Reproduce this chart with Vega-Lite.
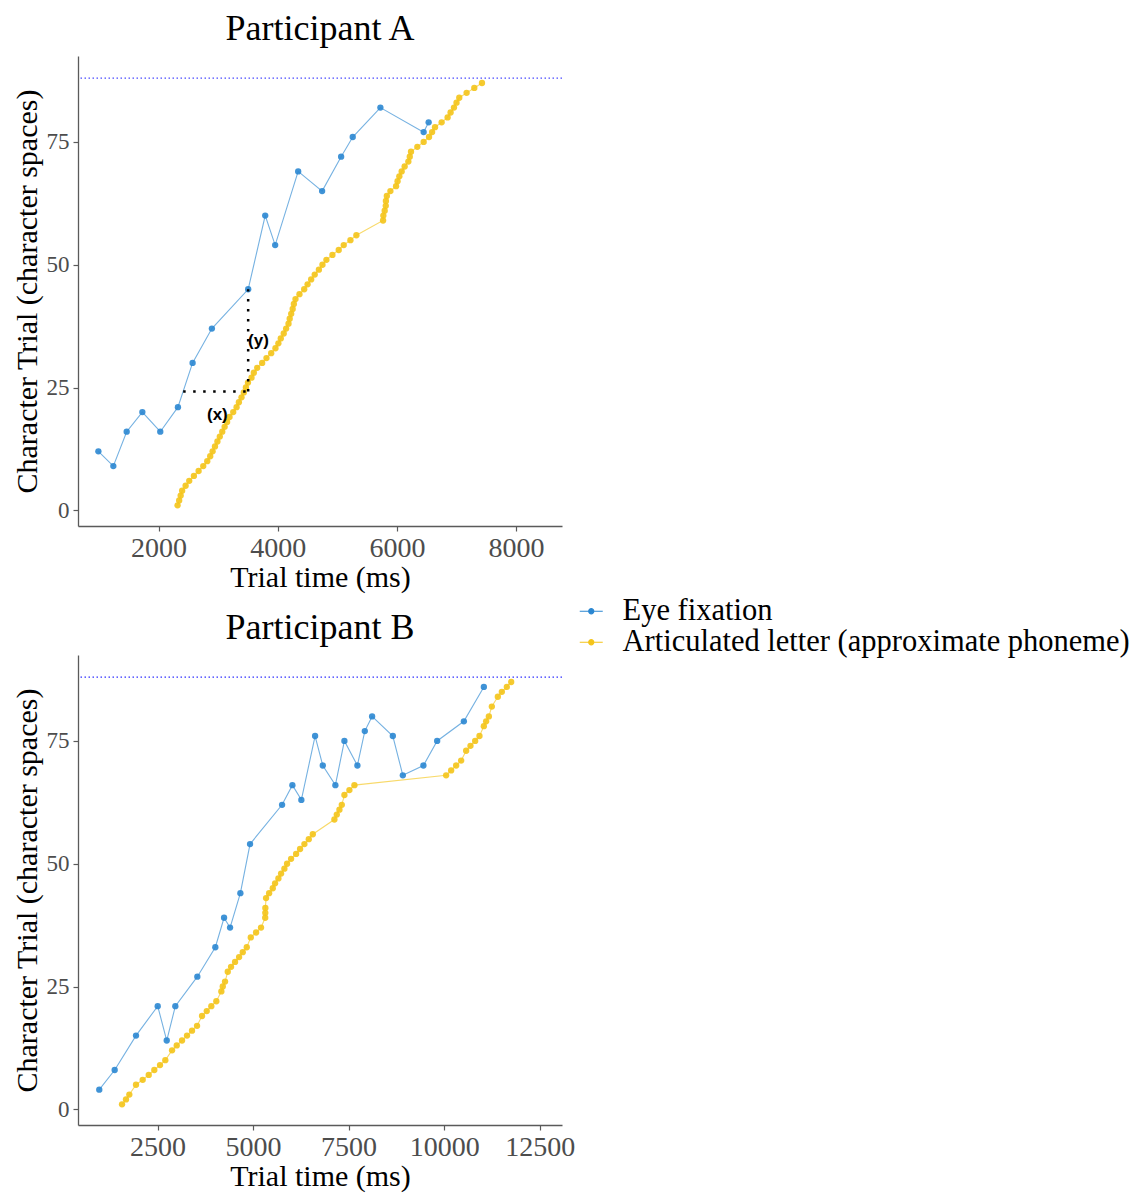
{
"$schema": "https://vega.github.io/schema/vega-lite/v6.json",
"background": "white",
"padding": {"left": 12, "top": 11, "right": 5, "bottom": 5},
"spacing": 18,
"data": {"values": [
{"p":"A","s":"Eye fixation","t":989,"c":12},{"p":"A","s":"Eye fixation","t":1240,"c":9},{"p":"A","s":"Eye fixation","t":1464,"c":16},{"p":"A","s":"Eye fixation","t":1727,"c":20},{"p":"A","s":"Eye fixation","t":2028,"c":16},{"p":"A","s":"Eye fixation","t":2324,"c":21},{"p":"A","s":"Eye fixation","t":2570,"c":30},{"p":"A","s":"Eye fixation","t":2894,"c":37},{"p":"A","s":"Eye fixation","t":3503,"c":45},{"p":"A","s":"Eye fixation","t":3789,"c":60},{"p":"A","s":"Eye fixation","t":3956,"c":54},{"p":"A","s":"Eye fixation","t":4342,"c":69},{"p":"A","s":"Eye fixation","t":4744,"c":65},{"p":"A","s":"Eye fixation","t":5063,"c":72},{"p":"A","s":"Eye fixation","t":5258,"c":76},{"p":"A","s":"Eye fixation","t":5722,"c":82},{"p":"A","s":"Eye fixation","t":6448,"c":77},{"p":"A","s":"Eye fixation","t":6532,"c":79},
{"p":"A","s":"Articulated letter (approximate phoneme)","t":2318,"c":1},{"p":"A","s":"Articulated letter (approximate phoneme)","t":2345,"c":2},{"p":"A","s":"Articulated letter (approximate phoneme)","t":2370,"c":3},{"p":"A","s":"Articulated letter (approximate phoneme)","t":2395,"c":4},{"p":"A","s":"Articulated letter (approximate phoneme)","t":2453,"c":5},{"p":"A","s":"Articulated letter (approximate phoneme)","t":2514,"c":6},{"p":"A","s":"Articulated letter (approximate phoneme)","t":2592,"c":7},{"p":"A","s":"Articulated letter (approximate phoneme)","t":2671,"c":8},{"p":"A","s":"Articulated letter (approximate phoneme)","t":2749,"c":9},{"p":"A","s":"Articulated letter (approximate phoneme)","t":2816,"c":10},{"p":"A","s":"Articulated letter (approximate phoneme)","t":2866,"c":11},{"p":"A","s":"Articulated letter (approximate phoneme)","t":2906,"c":12},{"p":"A","s":"Articulated letter (approximate phoneme)","t":2946,"c":13},{"p":"A","s":"Articulated letter (approximate phoneme)","t":2987,"c":14},{"p":"A","s":"Articulated letter (approximate phoneme)","t":3027,"c":15},{"p":"A","s":"Articulated letter (approximate phoneme)","t":3068,"c":16},{"p":"A","s":"Articulated letter (approximate phoneme)","t":3108,"c":17},{"p":"A","s":"Articulated letter (approximate phoneme)","t":3149,"c":18},{"p":"A","s":"Articulated letter (approximate phoneme)","t":3190,"c":19},{"p":"A","s":"Articulated letter (approximate phoneme)","t":3252,"c":20},{"p":"A","s":"Articulated letter (approximate phoneme)","t":3308,"c":21},{"p":"A","s":"Articulated letter (approximate phoneme)","t":3347,"c":22},{"p":"A","s":"Articulated letter (approximate phoneme)","t":3391,"c":23},{"p":"A","s":"Articulated letter (approximate phoneme)","t":3430,"c":24},{"p":"A","s":"Articulated letter (approximate phoneme)","t":3465,"c":25},{"p":"A","s":"Articulated letter (approximate phoneme)","t":3500,"c":26},{"p":"A","s":"Articulated letter (approximate phoneme)","t":3559,"c":27},{"p":"A","s":"Articulated letter (approximate phoneme)","t":3598,"c":28},{"p":"A","s":"Articulated letter (approximate phoneme)","t":3654,"c":29},{"p":"A","s":"Articulated letter (approximate phoneme)","t":3738,"c":30},{"p":"A","s":"Articulated letter (approximate phoneme)","t":3810,"c":31},{"p":"A","s":"Articulated letter (approximate phoneme)","t":3889,"c":32},{"p":"A","s":"Articulated letter (approximate phoneme)","t":3961,"c":33},{"p":"A","s":"Articulated letter (approximate phoneme)","t":4010,"c":34},{"p":"A","s":"Articulated letter (approximate phoneme)","t":4050,"c":35},{"p":"A","s":"Articulated letter (approximate phoneme)","t":4100,"c":36},{"p":"A","s":"Articulated letter (approximate phoneme)","t":4140,"c":37},{"p":"A","s":"Articulated letter (approximate phoneme)","t":4180,"c":38},{"p":"A","s":"Articulated letter (approximate phoneme)","t":4200,"c":39},{"p":"A","s":"Articulated letter (approximate phoneme)","t":4225,"c":40},{"p":"A","s":"Articulated letter (approximate phoneme)","t":4250,"c":41},{"p":"A","s":"Articulated letter (approximate phoneme)","t":4270,"c":42},{"p":"A","s":"Articulated letter (approximate phoneme)","t":4297,"c":43},{"p":"A","s":"Articulated letter (approximate phoneme)","t":4364,"c":44},{"p":"A","s":"Articulated letter (approximate phoneme)","t":4443,"c":45},{"p":"A","s":"Articulated letter (approximate phoneme)","t":4500,"c":46},{"p":"A","s":"Articulated letter (approximate phoneme)","t":4560,"c":47},{"p":"A","s":"Articulated letter (approximate phoneme)","t":4620,"c":48},{"p":"A","s":"Articulated letter (approximate phoneme)","t":4690,"c":49},{"p":"A","s":"Articulated letter (approximate phoneme)","t":4750,"c":50},{"p":"A","s":"Articulated letter (approximate phoneme)","t":4816,"c":51},{"p":"A","s":"Articulated letter (approximate phoneme)","t":4917,"c":52},{"p":"A","s":"Articulated letter (approximate phoneme)","t":5023,"c":53},{"p":"A","s":"Articulated letter (approximate phoneme)","t":5107,"c":54},{"p":"A","s":"Articulated letter (approximate phoneme)","t":5219,"c":55},{"p":"A","s":"Articulated letter (approximate phoneme)","t":5319,"c":56},{"p":"A","s":"Articulated letter (approximate phoneme)","t":5767,"c":59},{"p":"A","s":"Articulated letter (approximate phoneme)","t":5772,"c":60},{"p":"A","s":"Articulated letter (approximate phoneme)","t":5794,"c":61},{"p":"A","s":"Articulated letter (approximate phoneme)","t":5812,"c":62},{"p":"A","s":"Articulated letter (approximate phoneme)","t":5815,"c":63},{"p":"A","s":"Articulated letter (approximate phoneme)","t":5830,"c":64},{"p":"A","s":"Articulated letter (approximate phoneme)","t":5890,"c":65},{"p":"A","s":"Articulated letter (approximate phoneme)","t":5985,"c":66},{"p":"A","s":"Articulated letter (approximate phoneme)","t":6010,"c":67},{"p":"A","s":"Articulated letter (approximate phoneme)","t":6040,"c":68},{"p":"A","s":"Articulated letter (approximate phoneme)","t":6079,"c":69},{"p":"A","s":"Articulated letter (approximate phoneme)","t":6129,"c":70},{"p":"A","s":"Articulated letter (approximate phoneme)","t":6191,"c":71},{"p":"A","s":"Articulated letter (approximate phoneme)","t":6215,"c":72},{"p":"A","s":"Articulated letter (approximate phoneme)","t":6236,"c":73},{"p":"A","s":"Articulated letter (approximate phoneme)","t":6342,"c":74},{"p":"A","s":"Articulated letter (approximate phoneme)","t":6448,"c":75},{"p":"A","s":"Articulated letter (approximate phoneme)","t":6538,"c":76},{"p":"A","s":"Articulated letter (approximate phoneme)","t":6590,"c":77},{"p":"A","s":"Articulated letter (approximate phoneme)","t":6639,"c":78},{"p":"A","s":"Articulated letter (approximate phoneme)","t":6750,"c":79},{"p":"A","s":"Articulated letter (approximate phoneme)","t":6850,"c":80},{"p":"A","s":"Articulated letter (approximate phoneme)","t":6900,"c":81},{"p":"A","s":"Articulated letter (approximate phoneme)","t":6957,"c":82},{"p":"A","s":"Articulated letter (approximate phoneme)","t":7000,"c":83},{"p":"A","s":"Articulated letter (approximate phoneme)","t":7046,"c":84},{"p":"A","s":"Articulated letter (approximate phoneme)","t":7169,"c":85},{"p":"A","s":"Articulated letter (approximate phoneme)","t":7298,"c":86},{"p":"A","s":"Articulated letter (approximate phoneme)","t":7427,"c":87},
{"p":"B","s":"Eye fixation","t":976,"c":4},{"p":"B","s":"Eye fixation","t":1379,"c":8},{"p":"B","s":"Eye fixation","t":1937,"c":15},{"p":"B","s":"Eye fixation","t":2505,"c":21},{"p":"B","s":"Eye fixation","t":2741,"c":14},{"p":"B","s":"Eye fixation","t":2966,"c":21},{"p":"B","s":"Eye fixation","t":3542,"c":27},{"p":"B","s":"Eye fixation","t":4013,"c":33},{"p":"B","s":"Eye fixation","t":4241,"c":39},{"p":"B","s":"Eye fixation","t":4398,"c":37},{"p":"B","s":"Eye fixation","t":4668,"c":44},{"p":"B","s":"Eye fixation","t":4921,"c":54},{"p":"B","s":"Eye fixation","t":5759,"c":62},{"p":"B","s":"Eye fixation","t":6029,"c":66},{"p":"B","s":"Eye fixation","t":6264,"c":63},{"p":"B","s":"Eye fixation","t":6623,"c":76},{"p":"B","s":"Eye fixation","t":6824,"c":70},{"p":"B","s":"Eye fixation","t":7154,"c":66},{"p":"B","s":"Eye fixation","t":7390,"c":75},{"p":"B","s":"Eye fixation","t":7730,"c":70},{"p":"B","s":"Eye fixation","t":7924,"c":77},{"p":"B","s":"Eye fixation","t":8115,"c":80},{"p":"B","s":"Eye fixation","t":8657,"c":76},{"p":"B","s":"Eye fixation","t":8919,"c":68},{"p":"B","s":"Eye fixation","t":9458,"c":70},{"p":"B","s":"Eye fixation","t":9817,"c":75},{"p":"B","s":"Eye fixation","t":10516,"c":79},{"p":"B","s":"Eye fixation","t":11039,"c":86},
{"p":"B","s":"Articulated letter (approximate phoneme)","t":1571,"c":1},{"p":"B","s":"Articulated letter (approximate phoneme)","t":1675,"c":2},{"p":"B","s":"Articulated letter (approximate phoneme)","t":1762,"c":3},{"p":"B","s":"Articulated letter (approximate phoneme)","t":1937,"c":5},{"p":"B","s":"Articulated letter (approximate phoneme)","t":2112,"c":6},{"p":"B","s":"Articulated letter (approximate phoneme)","t":2270,"c":7},{"p":"B","s":"Articulated letter (approximate phoneme)","t":2416,"c":8},{"p":"B","s":"Articulated letter (approximate phoneme)","t":2565,"c":9},{"p":"B","s":"Articulated letter (approximate phoneme)","t":2704,"c":10},{"p":"B","s":"Articulated letter (approximate phoneme)","t":2880,"c":12},{"p":"B","s":"Articulated letter (approximate phoneme)","t":3003,"c":13},{"p":"B","s":"Articulated letter (approximate phoneme)","t":3141,"c":14},{"p":"B","s":"Articulated letter (approximate phoneme)","t":3272,"c":15},{"p":"B","s":"Articulated letter (approximate phoneme)","t":3403,"c":16},{"p":"B","s":"Articulated letter (approximate phoneme)","t":3534,"c":17},{"p":"B","s":"Articulated letter (approximate phoneme)","t":3665,"c":19},{"p":"B","s":"Articulated letter (approximate phoneme)","t":3788,"c":20},{"p":"B","s":"Articulated letter (approximate phoneme)","t":3908,"c":21},{"p":"B","s":"Articulated letter (approximate phoneme)","t":4039,"c":22},{"p":"B","s":"Articulated letter (approximate phoneme)","t":4170,"c":24},{"p":"B","s":"Articulated letter (approximate phoneme)","t":4207,"c":25},{"p":"B","s":"Articulated letter (approximate phoneme)","t":4267,"c":26},{"p":"B","s":"Articulated letter (approximate phoneme)","t":4338,"c":28},{"p":"B","s":"Articulated letter (approximate phoneme)","t":4424,"c":29},{"p":"B","s":"Articulated letter (approximate phoneme)","t":4529,"c":30},{"p":"B","s":"Articulated letter (approximate phoneme)","t":4634,"c":31},{"p":"B","s":"Articulated letter (approximate phoneme)","t":4730,"c":32},{"p":"B","s":"Articulated letter (approximate phoneme)","t":4835,"c":33},{"p":"B","s":"Articulated letter (approximate phoneme)","t":4940,"c":35},{"p":"B","s":"Articulated letter (approximate phoneme)","t":5079,"c":36},{"p":"B","s":"Articulated letter (approximate phoneme)","t":5209,"c":37},{"p":"B","s":"Articulated letter (approximate phoneme)","t":5318,"c":39},{"p":"B","s":"Articulated letter (approximate phoneme)","t":5320,"c":40},{"p":"B","s":"Articulated letter (approximate phoneme)","t":5322,"c":41},{"p":"B","s":"Articulated letter (approximate phoneme)","t":5340,"c":43},{"p":"B","s":"Articulated letter (approximate phoneme)","t":5420,"c":44},{"p":"B","s":"Articulated letter (approximate phoneme)","t":5516,"c":45},{"p":"B","s":"Articulated letter (approximate phoneme)","t":5576,"c":46},{"p":"B","s":"Articulated letter (approximate phoneme)","t":5663,"c":47},{"p":"B","s":"Articulated letter (approximate phoneme)","t":5733,"c":48},{"p":"B","s":"Articulated letter (approximate phoneme)","t":5820,"c":49},{"p":"B","s":"Articulated letter (approximate phoneme)","t":5890,"c":50},{"p":"B","s":"Articulated letter (approximate phoneme)","t":5995,"c":51},{"p":"B","s":"Articulated letter (approximate phoneme)","t":6126,"c":52},{"p":"B","s":"Articulated letter (approximate phoneme)","t":6230,"c":53},{"p":"B","s":"Articulated letter (approximate phoneme)","t":6343,"c":54},{"p":"B","s":"Articulated letter (approximate phoneme)","t":6458,"c":55},{"p":"B","s":"Articulated letter (approximate phoneme)","t":6563,"c":56},{"p":"B","s":"Articulated letter (approximate phoneme)","t":7128,"c":59},{"p":"B","s":"Articulated letter (approximate phoneme)","t":7191,"c":60},{"p":"B","s":"Articulated letter (approximate phoneme)","t":7260,"c":61},{"p":"B","s":"Articulated letter (approximate phoneme)","t":7322,"c":62},{"p":"B","s":"Articulated letter (approximate phoneme)","t":7391,"c":64},{"p":"B","s":"Articulated letter (approximate phoneme)","t":7521,"c":65},{"p":"B","s":"Articulated letter (approximate phoneme)","t":7652,"c":66},{"p":"B","s":"Articulated letter (approximate phoneme)","t":10052,"c":68},{"p":"B","s":"Articulated letter (approximate phoneme)","t":10183,"c":69},{"p":"B","s":"Articulated letter (approximate phoneme)","t":10314,"c":70},{"p":"B","s":"Articulated letter (approximate phoneme)","t":10445,"c":71},{"p":"B","s":"Articulated letter (approximate phoneme)","t":10576,"c":73},{"p":"B","s":"Articulated letter (approximate phoneme)","t":10689,"c":74},{"p":"B","s":"Articulated letter (approximate phoneme)","t":10812,"c":75},{"p":"B","s":"Articulated letter (approximate phoneme)","t":10924,"c":76},{"p":"B","s":"Articulated letter (approximate phoneme)","t":11039,"c":78},{"p":"B","s":"Articulated letter (approximate phoneme)","t":11099,"c":79},{"p":"B","s":"Articulated letter (approximate phoneme)","t":11170,"c":80},{"p":"B","s":"Articulated letter (approximate phoneme)","t":11248,"c":82},{"p":"B","s":"Articulated letter (approximate phoneme)","t":11405,"c":84},{"p":"B","s":"Articulated letter (approximate phoneme)","t":11510,"c":85},{"p":"B","s":"Articulated letter (approximate phoneme)","t":11641,"c":86},{"p":"B","s":"Articulated letter (approximate phoneme)","t":11754,"c":87}
]},
"config": {
  "font": "Liberation Serif",
  "view": {"stroke": null},
  "axis": {"grid": false, "domainColor": "#5a5a5a", "tickColor": "#5a5a5a", "domainWidth": 1.3, "tickWidth": 1.2, "tickSize": 5, "labelColor": "#4d4d4d", "titleColor": "#000000", "titleFontWeight": "normal", "labelFont": "Liberation Serif", "titleFont": "Liberation Serif"},
  "axisX": {"labelFontSize": 28, "titleFontSize": 30, "labelPadding": 3, "titlePadding": 0},
  "axisY": {"labelFontSize": 23, "titleFontSize": 30, "labelPadding": 4, "titlePadding": 4},
  "title": {"fontSize": 36, "font": "Liberation Serif", "fontWeight": "normal", "anchor": "middle", "offset": 8, "color": "#000000"},
  "legend": {"orient": "none", "legendX": 498, "legendY": 540, "labelFont": "Liberation Serif", "labelFontSize": 30.5, "labelColor": "#000000", "labelLimit": 0, "labelOffset": 16, "rowPadding": -2, "symbolType": "M-1,0L1,0M0.22,0A0.22,0.22,0,1,1,-0.22,0A0.22,0.22,0,1,1,0.22,0Z", "symbolSize": 529, "symbolStrokeWidth": 1.2, "symbolOpacity": 1}
},
"vconcat": [
{
  "title": "Participant A",
  "width": 484, "height": 470,
  "layer": [
    {"data": {"values": [{}]}, "mark": {"type": "rule", "color": "#4a4aff", "strokeDash": [1.5, 2.5], "strokeWidth": 1.2},
     "encoding": {"y": {"datum": 88, "type": "quantitative", "scale": {"domain": [-3.2, 92.5], "nice": false, "zero": false}}}},
    {"transform": [{"filter": "datum.p === 'A'"}], "mark": {"type": "line", "strokeWidth": 1.1, "opacity": 0.65},
     "encoding": {
       "x": {"field": "t", "type": "quantitative", "scale": {"domain": [647, 8770], "nice": false, "zero": false}, "axis": {"values": [2000, 4000, 6000, 8000], "format": "d", "title": "Trial time (ms)"}},
       "y": {"field": "c", "type": "quantitative", "scale": {"domain": [-3.2, 92.5], "nice": false, "zero": false}, "axis": {"values": [0, 25, 50, 75], "title": "Character Trial (character spaces)"}},
       "color": {"field": "s", "type": "nominal", "scale": {"domain": ["Eye fixation", "Articulated letter (approximate phoneme)"], "range": ["#2b87d1", "#f4c41a"]}, "legend": {"title": null, "encode": {"symbols": {"update": {"fill": {"scale": "color", "field": "value"}, "stroke": {"scale": "color", "field": "value"}}}}}}
     }},
    {"transform": [{"filter": "datum.p === 'A'"}], "mark": {"type": "point", "filled": true, "size": 40, "opacity": 0.9},
     "encoding": {
       "x": {"field": "t", "type": "quantitative"},
       "y": {"field": "c", "type": "quantitative"},
       "color": {"field": "s", "type": "nominal", "legend": {"title": null}}
     }},
    {"data": {"values": [{}]}, "mark": {"type": "rule", "color": "#000000", "strokeDash": [2.5, 7.5], "strokeWidth": 2.5},
     "encoding": {"x": {"datum": 2412, "type": "quantitative"}, "x2": {"datum": 3503}, "y": {"datum": 24.2, "type": "quantitative"}}},
    {"data": {"values": [{}]}, "mark": {"type": "rule", "color": "#000000", "strokeDash": [2.5, 7.5], "strokeWidth": 2.5},
     "encoding": {"x": {"datum": 3503, "type": "quantitative"}, "y": {"datum": 24.2, "type": "quantitative"}, "y2": {"datum": 45}}},
    {"data": {"values": [{"lab": "(x)", "tx": 2986, "ty": 19.4}, {"lab": "(y)", "tx": 3676, "ty": 34.5}]}, "mark": {"type": "text", "font": "Liberation Sans", "fontWeight": "bold", "fontSize": 17, "color": "#000000"},
     "encoding": {"x": {"field": "tx", "type": "quantitative"}, "y": {"field": "ty", "type": "quantitative"}, "text": {"field": "lab"}}}
  ]
},
{
  "title": "Participant B",
  "width": 484, "height": 470,
  "layer": [
    {"data": {"values": [{}]}, "mark": {"type": "rule", "color": "#3030ff", "strokeDash": [1.5, 2.5], "strokeWidth": 1.2},
     "encoding": {"y": {"datum": 88, "type": "quantitative", "scale": {"domain": [-3.2, 92.5], "nice": false, "zero": false}}}},
    {"transform": [{"filter": "datum.p === 'B'"}], "mark": {"type": "line", "strokeWidth": 1.1, "opacity": 0.65},
     "encoding": {
       "x": {"field": "t", "type": "quantitative", "scale": {"domain": [419, 13084], "nice": false, "zero": false}, "axis": {"values": [2500, 5000, 7500, 10000, 12500], "format": "d", "title": "Trial time (ms)"}},
       "y": {"field": "c", "type": "quantitative", "scale": {"domain": [-3.2, 92.5], "nice": false, "zero": false}, "axis": {"values": [0, 25, 50, 75], "title": "Character Trial (character spaces)"}},
       "color": {"field": "s", "type": "nominal", "legend": {"title": null}}
     }},
    {"transform": [{"filter": "datum.p === 'B'"}], "mark": {"type": "point", "filled": true, "size": 40, "opacity": 0.9},
     "encoding": {
       "x": {"field": "t", "type": "quantitative"},
       "y": {"field": "c", "type": "quantitative"},
       "color": {"field": "s", "type": "nominal", "legend": {"title": null}}
     }}
  ]
}
]
}
